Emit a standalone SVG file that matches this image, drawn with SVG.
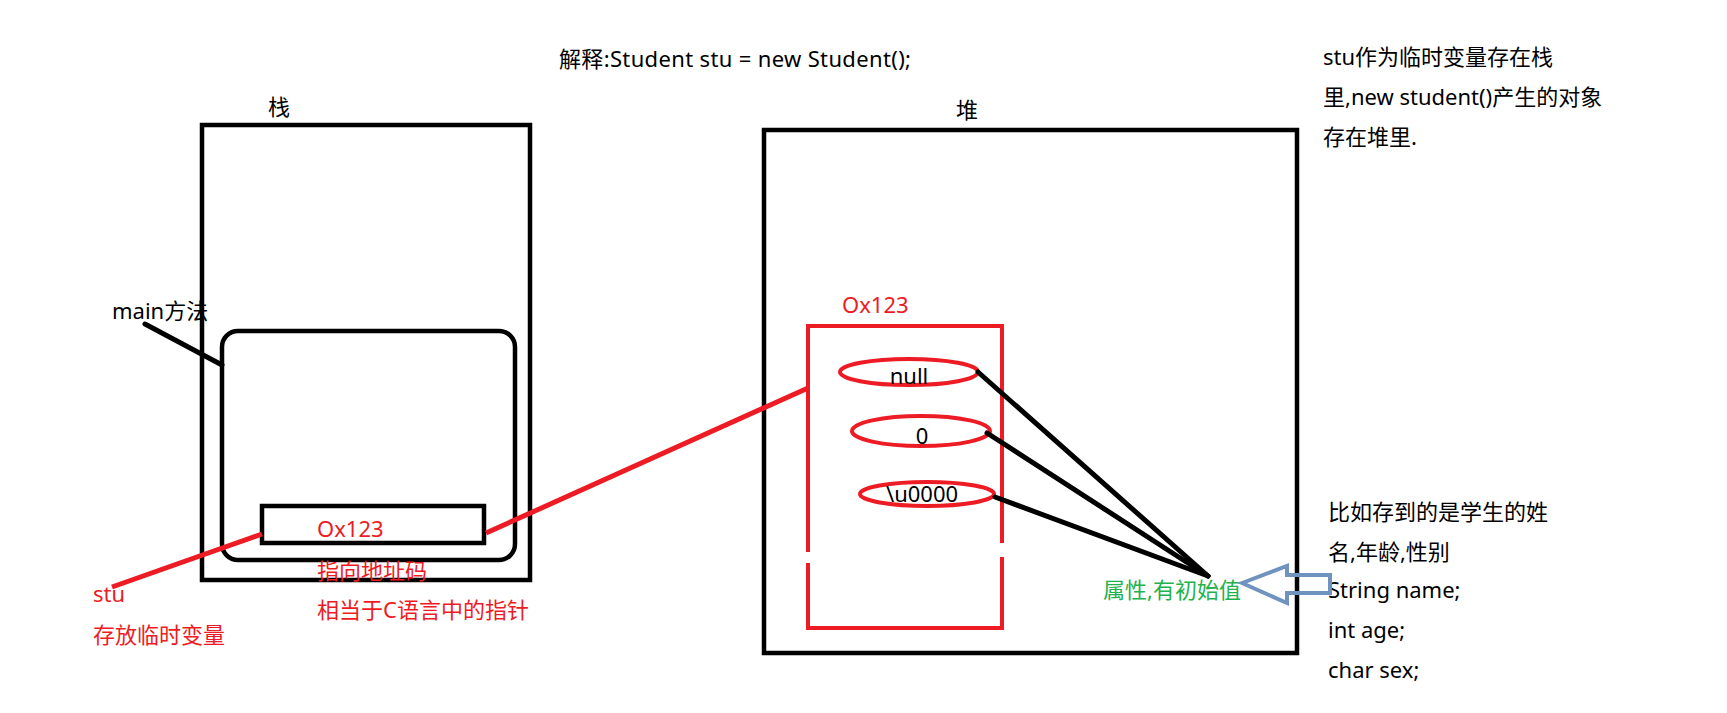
<svg xmlns="http://www.w3.org/2000/svg" width="1727" height="713" viewBox="0 0 1727 713">
<style>
.t{font-family:"Noto Sans","Noto Sans CJK SC",sans-serif;font-size:22px;fill:#000}
.red{fill:#ed1c24}
.grn{fill:#22b14c}
.blk{fill:none;stroke:#000;stroke-width:4.5}
.rs{fill:none;stroke:#ed1c24;stroke-width:4}
.bl{stroke:#000;stroke-width:5;stroke-linecap:round}
.rl{stroke:#ed1c24;stroke-width:5}
.mid{text-anchor:middle}
</style>
<rect width="1727" height="713" fill="#fff"/>
<text class="t" x="559" y="67" textLength="352" lengthAdjust="spacing">解释:Student stu = new Student();</text>
<g id="stack">
<text class="t" x="268" y="115">栈</text>
<rect class="blk" x="202" y="125" width="328" height="455"/>
</g>
<g id="main-method">
<rect class="blk" x="222" y="331" width="293" height="229" rx="16"/>
<text class="t" x="112" y="319">main方法</text>
</g>
<g id="stack-var">
<rect class="blk" x="262" y="506" width="222" height="37"/>
<text class="t red" x="317" y="537">Ox123</text>
<text class="t red" x="317" y="579">指向地址码</text>
<text class="t red" x="317" y="618">相当于C语言中的指针</text>
<text class="t red" x="93" y="602">stu</text>
<text class="t red" x="93" y="643">存放临时变量</text>
</g>
<g id="heap">
<text class="t" x="956" y="118">堆</text>
<rect class="blk" x="764" y="130" width="533" height="523"/>
</g>
<g id="object">
<text class="t red" x="842" y="313">Ox123</text>
<path class="rs" d="M808,552 V326 H1002 V543 M1002,557 V628 H808 V563"/>
</g>
<g id="field-null">
<ellipse class="rs" cx="909" cy="372" rx="69" ry="13"/>
<text class="t mid" x="909" y="384">null</text>
</g>
<g id="field-0">
<ellipse class="rs" cx="921" cy="431" rx="69" ry="15"/>
<text class="t mid" x="922" y="444">0</text>
</g>
<g id="field-char">
<ellipse class="rs" cx="927" cy="494" rx="67" ry="12"/>
<text class="t" x="886" y="502">\u0000</text>
</g>
<g id="attr-label">
<text class="t grn" x="1103" y="598">属性,有初始值</text>
</g>
<g id="notes">
<text class="t" x="1323" y="65">stu作为临时变量存在栈</text>
<text class="t" x="1323" y="105">里,new student()产生的对象</text>
<text class="t" x="1323" y="145">存在堆里.</text>
<text class="t" x="1328" y="520">比如存到的是学生的姓</text>
<text class="t" x="1328" y="560">名,年龄,性别</text>
<text class="t" x="1328" y="598">String name;</text>
<text class="t" x="1328" y="638">int age;</text>
<text class="t" x="1328" y="678">char sex;</text>
</g>
<g id="connectors">
<line class="bl" x1="145" y1="324" x2="222" y2="365"/>
<line class="rl" x1="112" y1="587" x2="262" y2="534"/>
<line class="rl" x1="486" y1="533" x2="808" y2="388"/>
<line class="bl" x1="978" y1="372" x2="1208" y2="576"/>
<line class="bl" x1="987" y1="433" x2="1208" y2="576"/>
<line class="bl" x1="995" y1="497" x2="1208" y2="576"/>
<path d="M1242,583 L1287,566 V575 H1330 V593 H1287 V603 Z" fill="none" stroke="#7092be" stroke-width="4" stroke-linejoin="miter"/>
</g>
</svg>
